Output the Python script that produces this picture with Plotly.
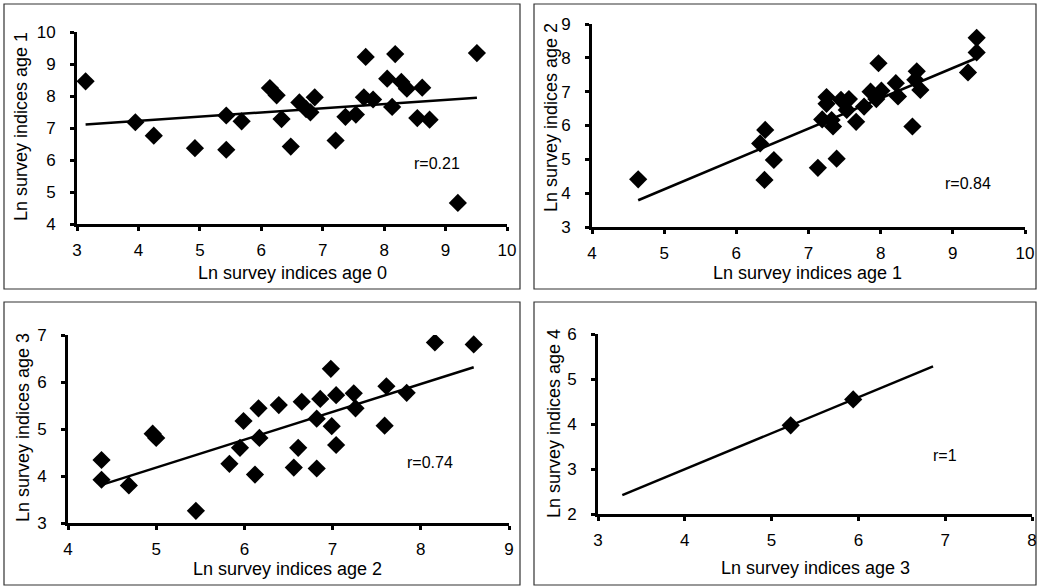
import numpy as np
import plotly.graph_objects as go

# ---------------- data ----------------
age0_p1 = [3.14, 3.95, 4.25, 4.92, 5.43, 5.43, 5.68, 6.14, 6.25, 6.33, 6.48, 6.62, 6.73, 6.80, 6.87,
           7.21, 7.37, 7.54, 7.67, 7.70, 7.82, 8.05, 8.13, 8.18, 8.28, 8.37, 8.54, 8.62, 8.74, 9.20, 9.51]
age1_p1 = [8.46, 7.18, 6.76, 6.37, 7.39, 6.32, 7.21, 8.25, 8.02, 7.28, 6.42, 7.80, 7.59, 7.49, 7.96,
           6.61, 7.35, 7.42, 7.96, 9.22, 7.89, 8.54, 7.66, 9.31, 8.44, 8.23, 7.31, 8.26, 7.26, 4.66, 9.34]

age1_p2 = [4.64, 6.33, 6.40, 6.39, 6.52, 7.13, 7.19, 7.25, 7.25, 7.32, 7.34, 7.39, 7.45, 7.53, 7.56,
           7.66, 7.77, 7.86, 7.94, 7.97, 8.01, 8.21, 8.24, 8.44, 8.48, 8.50, 8.55, 9.21, 9.33, 9.33]
age2_p2 = [4.41, 5.47, 5.87, 4.39, 4.98, 4.75, 6.18, 6.84, 6.64, 6.16, 5.97, 5.02, 6.76, 6.46, 6.78,
           6.11, 6.56, 7.00, 6.78, 7.84, 7.03, 7.25, 6.86, 5.97, 7.35, 7.60, 7.05, 7.57, 8.59, 8.16]

age2_p3 = [4.38, 4.38, 4.69, 4.96, 5.00, 5.45, 5.83, 5.95, 5.99, 6.12, 6.16, 6.17, 6.39, 6.56, 6.61,
           6.65, 6.82, 6.82, 6.86, 6.98, 6.99, 7.04, 7.04, 7.24, 7.26, 7.59, 7.61, 7.84, 8.16, 8.60]
age3_p3 = [4.34, 3.92, 3.80, 4.90, 4.81, 3.26, 4.26, 4.60, 5.17, 4.03, 5.44, 4.81, 5.51, 4.18, 4.60,
           5.58, 4.16, 5.22, 5.64, 6.28, 5.06, 4.66, 5.72, 5.76, 5.44, 5.07, 5.91, 5.77, 6.84, 6.80]

age3_p4 = [5.22, 5.94]
age4_p4 = [3.97, 4.545]
trend_span_p4 = [3.28, 6.86]

x_titles = ["Ln survey indices age 0", "Ln survey indices age 1",
            "Ln survey indices age 2", "Ln survey indices age 3"]
y_titles = ["Ln survey indices age 1", "Ln survey indices age 2",
            "Ln survey indices age 3", "Ln survey indices age 4"]
r_labels = ["r=0.21", "r=0.84", "r=0.74", "r=1"]
x_ranges = [[3, 10], [4, 10], [4, 9], [3, 8]]
y_ranges = [[4, 10], [3, 9], [3, 7], [2, 6]]

# ---------------- layout helpers (pixel geometry) ----------------
W, H = 1038, 587
FONT = "Liberation Sans, Arial, sans-serif"


def px(x):
    return x / W


def py(y):
    return 1 - y / H


# plot-area pixel boxes: (left, right, top, bottom)
plot_boxes = [(77, 507, 32, 224), (592, 1025, 24, 227), (68, 509, 335, 523), (598, 1032, 334, 514)]
frame_boxes = [(4, 520, 4, 289), (534, 1036, 4, 289), (4, 520, 302, 585), (534, 1036, 302, 585)]
xtitle_pos = [(292, 273), (807, 273), (288, 569), (815, 568)]
ytitle_pos = [(21, 127), (551, 118), (23, 428), (554, 424)]
r_pos = [(437, 163), (968, 183), (430, 463), (945, 455)]

datasets = [(age0_p1, age1_p1), (age1_p2, age2_p2), (age2_p3, age3_p3), (age3_p4, age4_p4)]

fig = go.Figure()

for i, (xs, ys) in enumerate(datasets):
    n = i + 1
    xa = "x" if n == 1 else f"x{n}"
    ya = "y" if n == 1 else f"y{n}"
    xs_a = np.array(xs)
    ys_a = np.array(ys)
    slope, intercept = np.polyfit(xs_a, ys_a, 1)
    if n == 4:
        lx = np.array(trend_span_p4)
    else:
        lx = np.array([xs_a.min(), xs_a.max()])
    fig.add_trace(go.Scatter(x=lx, y=slope * lx + intercept, mode="lines",
                             line=dict(color="black", width=2.5),
                             xaxis=xa, yaxis=ya, showlegend=False, hoverinfo="skip"))
    fig.add_trace(go.Scatter(x=xs, y=ys, mode="markers",
                             marker=dict(symbol="diamond", size=14, color="black",
                                         line=dict(width=0)),
                             xaxis=xa, yaxis=ya, showlegend=False))

    l, r, t, b = plot_boxes[i]
    axis_common = dict(showline=True, linecolor="black", linewidth=3, ticks="outside",
                       ticklen=4, tickwidth=3, tickcolor="black", showgrid=False,
                       zeroline=False, dtick=1, automargin=False,
                       tickfont=dict(family=FONT, size=17, color="black"))
    xkey = "xaxis" if n == 1 else f"xaxis{n}"
    ykey = "yaxis" if n == 1 else f"yaxis{n}"
    fig.update_layout(**{
        xkey: dict(domain=[px(l), px(r)], range=x_ranges[i], anchor=ya,
                   ticklabelstandoff=5, **axis_common),
        ykey: dict(domain=[py(b), py(t)], range=y_ranges[i], anchor=xa,
                   ticklabelstandoff=11, **axis_common),
    })

    fl, fr, ft, fb = frame_boxes[i]
    fig.add_shape(type="rect", xref="paper", yref="paper",
                  x0=px(fl), x1=px(fr), y0=py(fb), y1=py(ft),
                  line=dict(color="#333333", width=1.2), layer="below")

    tx, ty = xtitle_pos[i]
    fig.add_annotation(x=px(tx), y=py(ty), xref="paper", yref="paper", text=x_titles[i],
                       showarrow=False, xanchor="center", yanchor="middle",
                       font=dict(family=FONT, size=18, color="black"))
    tx, ty = ytitle_pos[i]
    fig.add_annotation(x=px(tx), y=py(ty), xref="paper", yref="paper", text=y_titles[i],
                       showarrow=False, xanchor="center", yanchor="middle", textangle=-90,
                       font=dict(family=FONT, size=18, color="black"))
    tx, ty = r_pos[i]
    fig.add_annotation(x=px(tx), y=py(ty), xref="paper", yref="paper", text=r_labels[i],
                       showarrow=False, xanchor="center", yanchor="middle",
                       font=dict(family=FONT, size=16, color="black"))

fig.update_layout(width=W, height=H, margin=dict(l=0, r=0, t=0, b=0, autoexpand=False),
                  paper_bgcolor="white", plot_bgcolor="white", showlegend=False)

fig.write_html("out.html", config={"displayModeBar": False},
               post_script="document.body.style.margin='0';document.body.style.padding='0';")
